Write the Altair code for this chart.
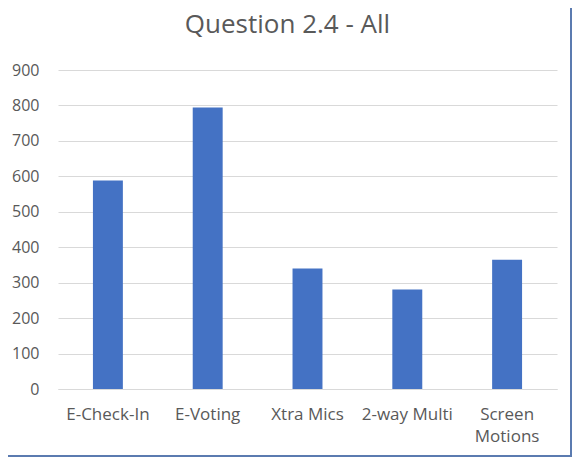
import altair as alt
import pandas as pd

title_text = ["Question 2.4 - All"]
categories = ["E-Check-In", "E-Voting", "Xtra Mics", "2-way Multi", "Screen Motions"]
values = [588, 794, 340, 281, 365]
y_ticks = [0, 100, 200, 300, 400, 500, 600, 700, 800, 900]

df = pd.DataFrame({"category": categories, "value": values})
title_df = pd.DataFrame({"t": title_text})

FONT = "Open Sans"
GREY = "#595959"

bars = alt.Chart(df).mark_bar(color="#4472C4").encode(
    x=alt.X(
        "category:N",
        sort=categories,
        scale=alt.Scale(paddingInner=0.7, paddingOuter=0.35),
        axis=alt.Axis(
            title=None,
            labelAngle=0,
            ticks=False,
            tickSize=0,
            domainColor="#d9d9d9",
            labelFont=FONT,
            labelFontSize=17,
            labelColor=GREY,
            labelPadding=17,
            labelLineHeight=22,
            labelExpr="datum.label == 'Screen Motions' ? ['Screen', 'Motions'] : datum.label",
        ),
    ),
    y=alt.Y(
        "value:Q",
        scale=alt.Scale(domain=[0, 900], nice=False),
        axis=alt.Axis(
            title=None,
            values=y_ticks,
            domain=False,
            ticks=False,
            tickSize=0,
            gridColor="#d9d9d9",
            labelFont=FONT,
            labelFontSize=16,
            labelColor=GREY,
            labelPadding=19,
        ),
    ),
)

title_mark = alt.Chart(title_df).mark_text(
    font=FONT, fontSize=26, color=GREY, align="center", baseline="alphabetic"
).encode(text="t:N", x=alt.value(229.5), y=alt.value(-37))

frame_df = pd.DataFrame({"k": [0]})
right_border = alt.Chart(frame_df).mark_rule(color="#5b7bb0", strokeWidth=2).encode(
    x=alt.value(513), y=alt.value(-62), y2=alt.value(387)
)
bottom_border = alt.Chart(frame_df).mark_rule(color="#5b7bb0", strokeWidth=2).encode(
    x=alt.value(-50), x2=alt.value(514), y=alt.value(386)
)

chart = alt.layer(bars, title_mark, right_border, bottom_border).properties(
    width=499,
    height=319,
    background="white",
    autosize=alt.AutoSizeParams(type="none"),
    padding={"left": 50, "top": 62, "right": 16, "bottom": 68},
).configure_view(stroke=None)

chart.save("out.html", embed_options={"renderer": "svg", "actions": False})
